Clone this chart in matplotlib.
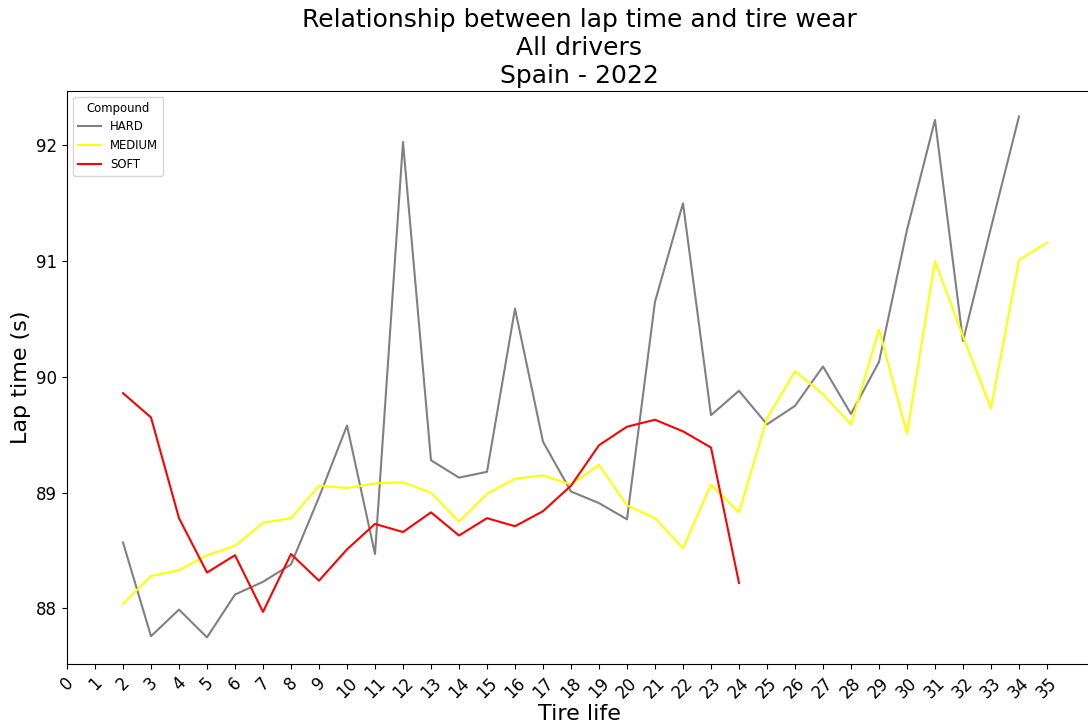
import numpy as np
import matplotlib
matplotlib.use("Agg")
import matplotlib.pyplot as plt

# tire life (laps) for each compound
hard_life = list(range(2, 35))
medium_life = list(range(2, 36))
soft_life = list(range(2, 25))

# mean lap time (s)
hard_time = [88.57, 87.76, 87.99, 87.75, 88.12, 88.23, 88.38, 88.96, 89.58, 88.47,
             92.03, 89.28, 89.13, 89.18, 90.59, 89.44, 89.01, 88.91, 88.77, 90.65,
             91.50, 89.67, 89.88, 89.59, 89.75, 90.09, 89.68, 90.13, 91.27, 92.22,
             90.31, 91.29, 92.25]
medium_time = [88.04, 88.28, 88.33, 88.46, 88.54, 88.74, 88.78, 89.06, 89.04, 89.08,
               89.09, 89.00, 88.75, 88.99, 89.12, 89.15, 89.07, 89.24, 88.89, 88.78,
               88.52, 89.07, 88.83, 89.64, 90.05, 89.85, 89.59, 90.41, 89.51, 91.00,
               90.35, 89.73, 91.01, 91.16]
soft_time = [89.86, 89.65, 88.78, 88.31, 88.46, 87.97, 88.47, 88.24, 88.51, 88.73,
             88.66, 88.83, 88.63, 88.78, 88.71, 88.84, 89.06, 89.41, 89.57, 89.63,
             89.53, 89.39, 88.22]

compounds = ["HARD", "MEDIUM", "SOFT"]
colors = {"HARD": "grey", "MEDIUM": "yellow", "SOFT": "red"}
series = {
    "HARD": (hard_life, hard_time),
    "MEDIUM": (medium_life, medium_time),
    "SOFT": (soft_life, soft_time),
}

fig = plt.figure(figsize=(10.88, 7.22), dpi=100)
ax = fig.add_axes([67 / 1088, (722 - 664) / 722, (1092 - 67) / 1088, (664 - 91) / 722])

for c in compounds:
    life, t = series[c]
    ax.plot(life, t, color=colors[c], linewidth=1.5, label=c)

ax.set_xlim(0, (1092 - 67) / 28)
ax.set_ylim(87.52, 92.47)
ax.set_xticks(np.arange(0, 36))
ax.set_xticklabels([str(i) for i in range(36)], rotation=45, fontsize=12)
ax.set_yticks([88, 89, 90, 91, 92])
ax.tick_params(axis="y", labelsize=12)

ax.set_xlabel("Tire life", fontsize=16, labelpad=1.5)
ax.set_ylabel("Lap time (s)", fontsize=16)
ax.set_title("Relationship between lap time and tire wear\nAll drivers\nSpain - 2022", fontsize=18)

ax.legend(title="Compound", loc="upper left", fontsize=8.4, title_fontsize=8.4,
          labelspacing=0.5)

fig.savefig("out.png", dpi=100)
